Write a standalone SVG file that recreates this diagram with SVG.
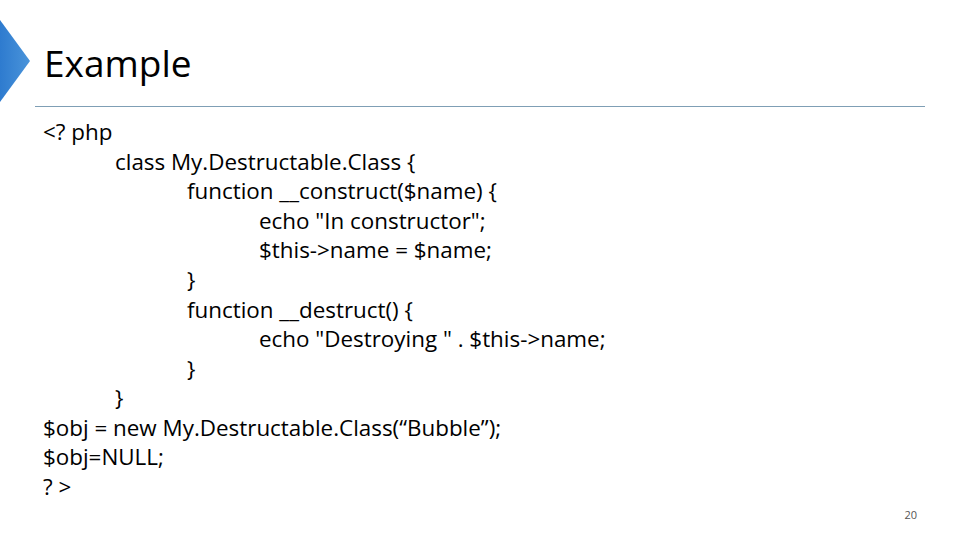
<svg xmlns="http://www.w3.org/2000/svg" width="960" height="540" viewBox="0 0 960 540">
<style>
.c{font-family:"Open Sans","Liberation Sans",sans-serif;font-size:22.4px;fill:#000}
</style>
<rect width="960" height="540" fill="#fff"/>
<defs><linearGradient id="g" x1="0" x2="1"><stop offset="0" stop-color="#2e7bcf"/><stop offset="1" stop-color="#4a94da"/></linearGradient></defs>
<polygon points="0,20 30,61 0,102" fill="url(#g)"/>
<text x="44" y="77" style="font-family:'Open Sans','Liberation Sans',sans-serif;font-size:37px">Example</text>
<line x1="35" y1="106.5" x2="925" y2="106.5" stroke="#7f9fb5" stroke-width="1.2"/>
<g class="c">
<text x="43" y="140">&lt;? php</text>
<text x="115" y="170">class My.Destructable.Class {</text>
<text x="187" y="199">function __construct($name) {</text>
<text x="259" y="229">echo "In constructor";</text>
<text x="259" y="258">$this-&gt;name = $name;</text>
<text x="187" y="288">}</text>
<text x="187" y="318">function __destruct() {</text>
<text x="259" y="347">echo "Destroying " . $this-&gt;name;</text>
<text x="187" y="377">}</text>
<text x="115" y="406">}</text>
<text x="43" y="436">$obj = new My.Destructable.Class(“Bubble”);</text>
<text x="43" y="465">$obj=NULL;</text>
<text x="43" y="495">? &gt;</text>
</g>
<text x="917" y="519" text-anchor="end" style="font-family:'Open Sans','Liberation Sans',sans-serif;font-size:11px;fill:#555">20</text>
</svg>
